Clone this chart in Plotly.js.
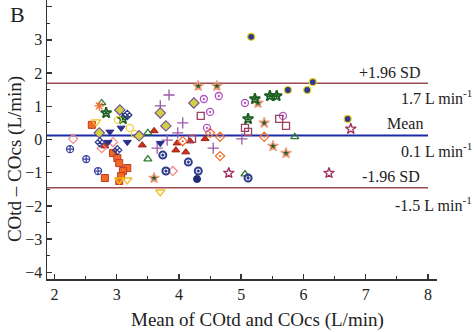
<!DOCTYPE html>
<html><head><meta charset="utf-8">
<script src="https://cdn.plot.ly/plotly-3.0.1.min.js"></script>
<style>html,body{margin:0;padding:0;background:#fff}#chart{width:474px;height:332px}</style>
</head><body><div id="chart"></div>
<script>
// Data (mean of COtd and COcs, difference COtd - COcs), per patient symbol group
const navyYellowX = [5.16, 5.75, 6.06, 6.15, 6.71];
const navyYellowY = [3.09, 1.49, 1.49, 1.73, 0.62];
const navyDotX = [3.74, 4.15, 3.79, 4.31, 5.11];
const navyDotY = [-0.47, -0.68, -0.95, -0.95, -1.16];
const navyCrossX = [2.25, 2.51, 2.70];
const navyCrossY = [-0.29, -0.59, -0.95];
const navyXCircX = [4.29];
const navyXCircY = [-1.19];
const navyDiamondX = [3.17, 3.01, 2.73];
const navyDiamondY = [0.74, -0.32, -0.08];
const navyTriDownX = [2.89, 3.07, 3.17, 2.86, 3.70];
const navyTriDownY = [0.23, 0.35, -0.08, -0.08, -0.11];
const redTriX = [2.81, 3.41, 3.60, 3.97, 3.95, 4.11, 4.18, 4.42];
const redTriY = [-0.20, -0.17, 0.26, -0.11, -0.32, -0.38, -0.05, 0.02];
const orangeDiamondX = [4.06, 4.50, 4.66, 4.66, 5.37];
const orangeDiamondY = [-0.05, 0.20, 0.08, -0.50, 0.08];
const pinkDiamondX = [2.30, 2.76, 2.94, 3.90];
const pinkDiamondY = [0.02, -0.26, -0.08, -0.95];
const purplePlusX = [3.70, 3.84, 4.06, 3.98, 3.81, 3.65, 4.55, 5.01];
const purplePlusY = [1.01, 1.34, 0.50, 0.20, -0.02, -0.26, -0.26, 0.02];
const magentaDotX = [4.40, 4.64, 4.50, 5.06, 4.45, 5.67];
const magentaDotY = [1.22, 1.31, 0.83, 1.10, 0.35, 0.71];
const maroonSquareX = [4.35, 5.06, 5.11, 5.61, 5.72, 4.21];
const maroonSquareY = [0.71, 0.35, 0.23, 0.62, 0.41, 0.02];
const greenStarX = [2.83, 3.10, 5.11, 5.22, 5.46, 5.57];
const greenStarY = [0.80, 0.62, 0.62, 1.22, 1.31, 1.31];
const salmonStarX = [4.31, 4.61, 5.27, 5.37, 5.51, 5.72, 3.60];
const salmonStarY = [1.61, 1.61, 1.10, 0.50, -0.20, -0.41, -1.16];
const greenTriX = [2.76, 3.50, 3.50, 5.86, 5.06];
const greenTriY = [1.10, 0.20, -0.59, 0.08, -1.04];
const purpleStarX = [4.80, 6.41, 6.76];
const purpleStarY = [-1.01, -1.01, 0.32];
const yellowTriDownX = [2.67, 3.04, 3.17, 3.70];
const yellowTriDownY = [0.53, -1.22, -1.22, -1.58];
const yellowCircleX = [3.02, 3.21, 3.29];
const yellowCircleY = [0.59, 0.35, 0.17];
const yellowDiamondX = [2.72, 3.05, 3.70, 3.79, 4.24, 3.36];
const yellowDiamondY = [0.20, 0.89, 0.80, 0.41, 1.10, 0.11];
const orangeSunX = [2.72];
const orangeSunY = [1.01];
const orangeSquareX = [2.60, 2.94, 3.01, 3.04, 3.17, 3.10, 3.07, 3.04, 2.81];
const orangeSquareY = [0.44, -0.41, -0.56, -0.71, -0.86, -0.95, -1.10, -1.25, -1.16];

// Limits of agreement
const meanDiff = 0.12;
const upperLoA = 1.69;
const lowerLoA = -1.45;
const xTicks = [2, 3, 4, 5, 6, 7, 8];
const yTicks = [-4, -3, -2, -1, 0, 1, 2, 3, 4];

function tr(x, y, symbol, color, lineColor, lw, size) {
  return {x: x, y: y, type: 'scatter', mode: 'markers', cliponaxis: false,
    marker: {symbol: symbol, color: color, size: size || 7,
      line: {color: lineColor, width: lw}}};
}
const traces = [
  tr(orangeSquareX, orangeSquareY, 'square', '#f26b21', '#c0392b', 1),
  tr(redTriX, redTriY, 'triangle-up', '#c8321e', '#a02010', 1),
  tr(pinkDiamondX, pinkDiamondY, 'diamond-open', '#f28c8c', '#f28c8c', 1.3),
  tr(orangeDiamondX, orangeDiamondY, 'diamond-open-dot', '#f07030', '#f07030', 1.3),
  tr(purplePlusX, purplePlusY, 'cross-thin-open', '#9a5aa8', '#9a5aa8', 1.3, 8),
  tr(magentaDotX, magentaDotY, 'circle-open-dot', '#b050c0', '#b050c0', 1.3),
  tr(maroonSquareX, maroonSquareY, 'square-open', '#a04060', '#a04060', 1.3),
  tr(salmonStarX, salmonStarY, 'star', '#2f5a2a', '#f0a080', 1.3, 8),
  tr(greenStarX, greenStarY, 'star-open-dot', '#1b5e20', '#1b5e20', 1.8, 8),
  tr(greenTriX, greenTriY, 'triangle-up-open', '#2e7d32', '#2e7d32', 1.3),
  tr(purpleStarX, purpleStarY, 'star-open', '#a03060', '#a03060', 1.3, 8),
  tr(yellowTriDownX, yellowTriDownY, 'triangle-down-open', '#f0c020', '#f0c020', 1.3, 8),
  tr(yellowCircleX, yellowCircleY, 'circle-open', '#f0d040', '#f0d040', 1.3),
  tr(yellowDiamondX, yellowDiamondY, 'diamond', '#d0d040', '#6a4a9a', 1.1, 8),
  tr(orangeSunX, orangeSunY, 'asterisk-open', '#f07030', '#f07030', 1.3, 8),
  tr(navyTriDownX, navyTriDownY, 'triangle-down', '#2b2f8a', '#2b2f8a', 1),
  tr(navyDiamondX, navyDiamondY, 'diamond-x-open', '#2b3a8f', '#2b3a8f', 1.3),
  tr(navyCrossX, navyCrossY, 'circle-cross-open', '#3a44a0', '#3a44a0', 1.3),
  tr(navyDotX, navyDotY, 'circle-open-dot', '#2b3a8f', '#2b3a8f', 2),
  tr(navyXCircX, navyXCircY, 'circle-x', '#1f2a70', '#1f2a70', 1),
  tr(navyYellowX, navyYellowY, 'circle', '#2b3a8f', '#e8d020', 1.2, 7)
];

const serif = 'Liberation Serif';
const layout = {
  width: 474, height: 332,
  margin: {l: 47, r: 37, t: 0, b: 53},
  paper_bgcolor: '#fff', plot_bgcolor: '#fff',
  showlegend: false,
  font: {family: serif, size: 14, color: '#222'},
  xaxis: {range: [1.88, 8.145], tickvals: xTicks, ticks: 'inside', ticklen: 5, tickwidth: 1.5,
    tickcolor: '#333', showline: true, linecolor: '#333', linewidth: 1.5, showgrid: false,
    zeroline: false, tickfont: {family: serif, size: 16, color: '#222'},
    minor: {dtick: 0.5, tick0: 0, ticks: 'inside', ticklen: 3, tickwidth: 1, tickcolor: '#333', showgrid: false}},
  yaxis: {range: [-4.2, 4.2], tickvals: yTicks, ticks: 'inside', ticklen: 5, tickwidth: 1.5,
    tickcolor: '#333', showline: true, linecolor: '#333', linewidth: 1.5, showgrid: false,
    zeroline: false, tickfont: {family: serif, size: 16, color: '#222'},
    minor: {dtick: 0.5, tick0: 0, ticks: 'inside', ticklen: 3, tickwidth: 1, tickcolor: '#333', showgrid: false}},
  shapes: [
    {type: 'line', xref: 'paper', x0: 0, x1: (8 - 1.88) / (8.145 - 1.88), yref: 'y', y0: upperLoA, y1: upperLoA, line: {color: '#9a4a50', width: 1.5}, layer: 'below'},
    {type: 'line', xref: 'paper', x0: 0, x1: (8 - 1.88) / (8.145 - 1.88), yref: 'y', y0: lowerLoA, y1: lowerLoA, line: {color: '#9a4a50', width: 1.5}, layer: 'below'},
    {type: 'line', xref: 'paper', x0: 0, x1: (8 - 1.88) / (8.145 - 1.88), yref: 'y', y0: meanDiff, y1: meanDiff, line: {color: '#1a2aa8', width: 2}, layer: 'below'}
  ],
  annotations: [
    {text: 'B', xref: 'paper', yref: 'paper', x: -0.1, y: 1.0, xanchor: 'left', yanchor: 'top', showarrow: false, font: {family: serif, size: 22, color: '#222'}},
    {text: 'COtd \u2013 COcs (L/min)', xref: 'paper', yref: 'paper', x: -0.082, y: 0.43, textangle: -90, xanchor: 'center', yanchor: 'middle', showarrow: false, font: {family: serif, size: 19, color: '#222'}},
    {text: 'Mean of COtd and COcs (L/min)', xref: 'paper', yref: 'paper', x: 0.54, y: -0.1, xanchor: 'center', yanchor: 'top', showarrow: false, font: {family: serif, size: 19, color: '#222'}},
    {text: '+1.96 SD', xref: 'x', yref: 'y', x: 7.9, y: upperLoA, yshift: 11, xanchor: 'right', yanchor: 'middle', showarrow: false, font: {family: serif, size: 16}},
    {text: '1.7 L min<sup>-1</sup>', xref: 'paper', yref: 'y', x: 1.095, y: upperLoA, yshift: -14, xanchor: 'right', yanchor: 'middle', showarrow: false, font: {family: serif, size: 16}},
    {text: 'Mean', xref: 'x', yref: 'y', x: 7.96, y: meanDiff, yshift: 12, xanchor: 'right', yanchor: 'middle', showarrow: false, font: {family: serif, size: 16}},
    {text: '0.1 L min<sup>-1</sup>', xref: 'paper', yref: 'y', x: 1.095, y: meanDiff, yshift: -14, xanchor: 'right', yanchor: 'middle', showarrow: false, font: {family: serif, size: 16}},
    {text: '-1.96 SD', xref: 'x', yref: 'y', x: 7.9, y: lowerLoA, yshift: 11, xanchor: 'right', yanchor: 'middle', showarrow: false, font: {family: serif, size: 16}},
    {text: '-1.5 L min<sup>-1</sup>', xref: 'paper', yref: 'y', x: 1.095, y: lowerLoA, yshift: -16, xanchor: 'right', yanchor: 'middle', showarrow: false, font: {family: serif, size: 16}}
  ]
};
Plotly.newPlot('chart', traces, layout, {displayModeBar: false, staticPlot: true});
</script></body></html>
